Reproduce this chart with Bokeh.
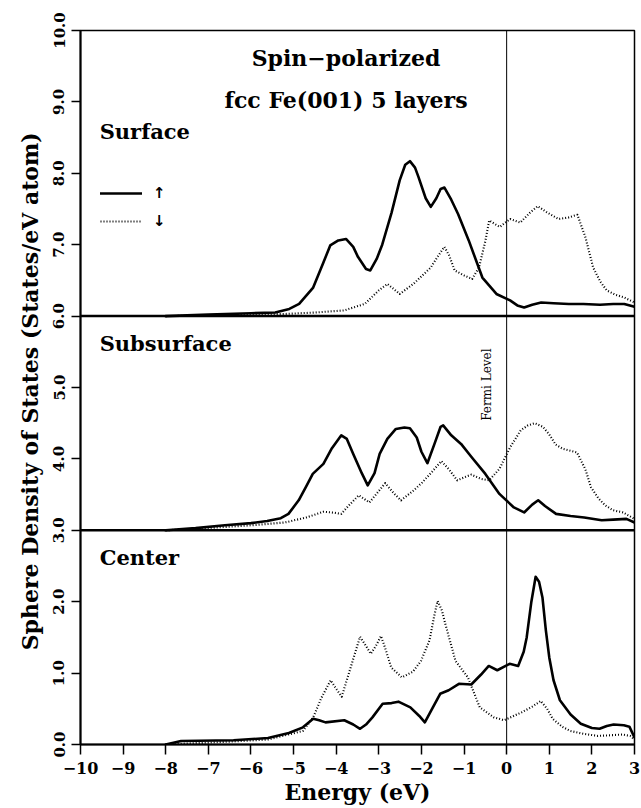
from bokeh.plotting import figure
from bokeh.models import Range1d, FixedTicker, Span, Label, Legend, LegendItem
from bokeh.embed import file_html
from bokeh.resources import INLINE

# ---------------- data ----------------
x_ticks = [-10, -9, -8, -7, -6, -5, -4, -3, -2, -1, 0, 1, 2, 3]
x_tick_labels = ["−10", "−9", "−8", "−7", "−6", "−5", "−4", "−3", "−2", "−1", "0", "1", "2", "3"]
y_ticks = [0, 1, 2, 3, 4, 5, 6, 7, 8, 9, 10]
y_tick_labels = ["0.0", "1.0", "2.0", "3.0", "4.0", "5.0", "6.0", "7.0", "8.0", "9.0", "10.0"]

panel_names = ["Surface", "Subsurface", "Center"]
panel_offsets = [6, 3, 0]

surface_up_e = [-8, -7, -6, -5.43, -5.1, -4.87, -4.54, -4.3, -4.14, -3.95, -3.77, -3.6, -3.49, -3.3, -3.2,
                -3.05, -2.92, -2.7, -2.51, -2.38, -2.27, -2.15, -2.07, -1.9, -1.78, -1.65, -1.55, -1.46,
                -1.3, -1.14, -0.89, -0.57, -0.24, 0.08, 0.25, 0.41, 0.6, 0.81, 1.1, 1.46, 1.8, 2.19, 2.5,
                2.76, 3.0]
surface_up_dos = [0.0, 0.02, 0.04, 0.05, 0.10, 0.17, 0.40, 0.75, 0.99, 1.06, 1.08, 0.97, 0.83, 0.66, 0.64,
                  0.80, 1.00, 1.45, 1.90, 2.12, 2.17, 2.08, 1.95, 1.65, 1.53, 1.65, 1.78, 1.80,
                  1.63, 1.43, 1.06, 0.54, 0.31, 0.22, 0.15, 0.12, 0.16, 0.19, 0.18, 0.17, 0.17, 0.16, 0.17,
                  0.17, 0.13]

surface_dn_e = [-8, -7, -6, -5.19, -4.5, -3.81, -3.6, -3.33, -3.0, -2.8, -2.65, -2.51, -2.19, -1.78, -1.6,
                -1.46, -1.35, -1.22, -1.0, -0.81, -0.65, -0.5, -0.41, -0.25, -0.16, 0.08, 0.32, 0.55, 0.73,
                0.95, 1.22, 1.45, 1.66, 1.85, 2.03, 2.2, 2.35, 2.55, 2.76, 3.0]
surface_dn_dos = [0.0, 0.01, 0.02, 0.03, 0.05, 0.08, 0.12, 0.17, 0.36, 0.45, 0.38, 0.31, 0.45, 0.68, 0.85,
                  0.97, 0.85, 0.64, 0.57, 0.52, 0.68, 1.05, 1.34, 1.28, 1.25, 1.36, 1.31, 1.45, 1.54,
                  1.45, 1.36, 1.38, 1.42, 1.10, 0.68, 0.48, 0.36, 0.30, 0.26, 0.19]

subsurf_up_e = [-8, -7.3, -6.61, -6.0, -5.62, -5.3, -5.12, -4.88, -4.7, -4.55, -4.3, -4.1, -3.88, -3.75,
                -3.6, -3.4, -3.26, -3.1, -2.98, -2.8, -2.6, -2.4, -2.27, -2.11, -2.0, -1.86, -1.7, -1.55,
                -1.49, -1.3, -1.07, -0.83, -0.5, -0.17, 0.17, 0.41, 0.6, 0.74, 0.9, 1.16, 1.5, 1.82, 2.23,
                2.5, 2.81, 3.0]
subsurf_up_dos = [0.0, 0.03, 0.07, 0.10, 0.13, 0.17, 0.23, 0.42, 0.62, 0.79, 0.93, 1.15, 1.33, 1.28,
                  1.07, 0.80, 0.63, 0.80, 1.07, 1.28, 1.42, 1.44, 1.43, 1.30, 1.10, 0.94, 1.20, 1.45,
                  1.47, 1.33, 1.21, 1.03, 0.79, 0.51, 0.32, 0.25, 0.36, 0.42, 0.34, 0.23, 0.20, 0.18, 0.14,
                  0.15, 0.16, 0.11]

subsurf_dn_e = [-8, -6.78, -6.0, -5.2, -4.7, -4.3, -4.1, -3.88, -3.7, -3.47, -3.22, -3.0, -2.85, -2.65,
                -2.48, -2.2, -1.98, -1.75, -1.53, -1.35, -1.16, -1.0, -0.83, -0.6, -0.41, -0.17, 0.08, 0.33,
                0.5, 0.66, 0.85, 0.99, 1.15, 1.32, 1.65, 1.85, 1.98, 2.15, 2.31, 2.5, 2.73, 3.0]
subsurf_dn_dos = [0.0, 0.04, 0.07, 0.11, 0.18, 0.26, 0.25, 0.23, 0.35, 0.49, 0.39, 0.55, 0.66, 0.52,
                  0.42, 0.55, 0.67, 0.82, 0.97, 0.85, 0.70, 0.74, 0.78, 0.72, 0.70, 0.86, 1.16, 1.40,
                  1.47, 1.50, 1.45, 1.35, 1.20, 1.14, 1.09, 0.85, 0.60, 0.45, 0.35, 0.28, 0.25, 0.16]

center_up_e = [-8, -7.64, -6.41, -5.6, -5.11, -4.78, -4.54, -4.4, -4.25, -3.81, -3.6, -3.44, -3.3, -3.15,
               -2.91, -2.7, -2.54, -2.26, -2.05, -1.92, -1.75, -1.56, -1.36, -1.12, -0.83, -0.6, -0.42,
               -0.22, 0.07, 0.27, 0.40, 0.47, 0.58, 0.68, 0.76, 0.84, 0.92, 1.0, 1.1, 1.25, 1.5, 1.74,
               2.0, 2.18, 2.35, 2.51, 2.75, 2.88, 3.0]
center_up_dos = [0.0, 0.05, 0.06, 0.09, 0.16, 0.24, 0.36, 0.34, 0.31, 0.34, 0.28, 0.22, 0.28, 0.38,
                 0.57, 0.58, 0.60, 0.52, 0.40, 0.31, 0.50, 0.71, 0.76, 0.85, 0.84, 0.98, 1.10,
                 1.04, 1.13, 1.10, 1.30, 1.50, 2.00, 2.35, 2.28, 2.06, 1.60, 1.22, 0.90, 0.62, 0.42, 0.29,
                 0.23, 0.22, 0.26, 0.28, 0.27, 0.25, 0.10]

center_dn_e = [-8, -6.5, -5.6, -4.78, -4.54, -4.35, -4.13, -4.0, -3.87, -3.65, -3.44, -3.3, -3.19, -3.05,
               -2.95, -2.85, -2.71, -2.46, -2.2, -2.01, -1.81, -1.7, -1.62, -1.52, -1.44, -1.2, -0.91,
               -0.63, -0.3, -0.06, 0.35, 0.6, 0.8, 0.95, 1.08, 1.3, 1.49, 1.8, 2.14, 2.45, 2.71, 2.9, 3.0]
center_dn_dos = [0.0, 0.04, 0.07, 0.19, 0.38, 0.65, 0.90, 0.78, 0.67, 1.10, 1.51, 1.38, 1.27, 1.40,
                 1.52, 1.35, 1.08, 0.94, 1.02, 1.17, 1.46, 1.80, 2.01, 1.88, 1.69, 1.17, 0.94,
                 0.52, 0.38, 0.34, 0.45, 0.53, 0.61, 0.50, 0.36, 0.25, 0.19, 0.15, 0.12, 0.13, 0.14, 0.12, 0.07]

spin_labels = ["↑", "↓"]

SERIF = "DejaVu Serif"

# ---------------- figure ----------------
p = figure(width=641, height=808, output_backend="svg", toolbar_location=None,
           x_range=Range1d(-10, 3), y_range=Range1d(0, 10),
           min_border_left=80, min_border_right=7, min_border_top=30, min_border_bottom=64)
p.grid.visible = False
p.outline_line_color = "black"
p.outline_line_width = 1.5
p.background_fill_color = "white"
p.border_fill_color = "white"

xa = p.xaxis[0]
xa.ticker = FixedTicker(ticks=x_ticks)
xa.major_label_overrides = {t: l for t, l in zip(x_ticks, x_tick_labels)}
xa.axis_label = "Energy (eV)"
xa.axis_line_width = 2
xa.axis_line_color = "black"
xa.major_tick_line_width = 1.5
xa.major_tick_line_color = "black"
xa.major_tick_out = 10
xa.major_tick_in = 0
xa.minor_tick_out = 0
xa.minor_tick_in = 0
xa.major_label_standoff = 7
xa.major_label_text_font = SERIF
xa.major_label_text_font_style = "bold"
xa.major_label_text_font_size = "16px"
xa.major_label_text_color = "black"
xa.axis_label_text_font = SERIF
xa.axis_label_text_font_style = "bold"
xa.axis_label_text_font_size = "22px"
xa.axis_label_text_color = "black"
xa.axis_label_standoff = 2

ya = p.yaxis[0]
ya.ticker = FixedTicker(ticks=y_ticks)
ya.major_label_overrides = {t: l for t, l in zip(y_ticks, y_tick_labels)}
ya.major_label_orientation = "vertical"
ya.axis_label = "Sphere Density of States (States/eV  atom)"
ya.axis_line_width = 2
ya.axis_line_color = "black"
ya.major_tick_line_width = 1.5
ya.major_tick_line_color = "black"
ya.major_tick_out = 9
ya.major_tick_in = 0
ya.minor_tick_out = 0
ya.minor_tick_in = 0
ya.major_label_standoff = 7
ya.major_label_text_font = SERIF
ya.major_label_text_font_style = "bold"
ya.major_label_text_font_size = "15px"
ya.major_label_text_color = "black"
ya.axis_label_text_font = SERIF
ya.axis_label_text_font_style = "bold"
ya.axis_label_text_font_size = "22px"
ya.axis_label_text_color = "black"
ya.axis_label_standoff = 8

# separators and Fermi level
for off in panel_offsets[:2]:
    p.add_layout(Span(location=off, dimension="width", line_color="black", line_width=2.5))
p.add_layout(Span(location=0, dimension="height", line_color="black", line_width=1))

series = [
    (surface_up_e, surface_up_dos, surface_dn_e, surface_dn_dos, panel_offsets[0]),
    (subsurf_up_e, subsurf_up_dos, subsurf_dn_e, subsurf_dn_dos, panel_offsets[1]),
    (center_up_e, center_up_dos, center_dn_e, center_dn_dos, panel_offsets[2]),
]
legend_renderers = None
for ue, ud, de, dd, off in series:
    r_dn = p.line(de, [v + off for v in dd], line_color="black", line_width=2.1,
                  line_dash="1 2", line_join="round")
    r_up = p.line(ue, [v + off for v in ud], line_color="black", line_width=2.6,
                  line_join="round", line_cap="round")
    if legend_renderers is None:
        legend_renderers = (r_up, r_dn)

legend = Legend(items=[LegendItem(label=spin_labels[0], renderers=[legend_renderers[0]]),
                       LegendItem(label=spin_labels[1], renderers=[legend_renderers[1]])],
                location=(20, 513), orientation="vertical",
                border_line_alpha=0, background_fill_alpha=0,
                padding=0, margin=0, spacing=8, glyph_width=42, glyph_height=20,
                label_height=20, label_standoff=11,
                label_text_font="DejaVu Sans", label_text_font_style="bold",
                label_text_font_size="15px", label_text_color="black")
p.add_layout(legend)

# titles and panel labels
p.add_layout(Label(x=-3.77, y=9.61, text="Spin−polarized", text_align="center", text_baseline="middle",
                   text_font=SERIF, text_font_style="bold", text_font_size="22px", text_color="black"))
p.add_layout(Label(x=-3.77, y=9.02, text="fcc Fe(001) 5 layers", text_align="center",
                   text_baseline="middle", text_font=SERIF, text_font_style="bold", text_font_size="22px",
                   text_color="black"))
panel_label_y = [8.59, 5.62, 2.62]
for name, ly in zip(panel_names, panel_label_y):
    p.add_layout(Label(x=-9.55, y=ly, text=name, text_align="left", text_baseline="middle",
                       text_font=SERIF, text_font_style="bold", text_font_size="21px", text_color="black"))
p.add_layout(Label(x=-0.45, y=5.04, text="Fermi Level", angle=1.5708, text_align="center",
                   text_baseline="middle", text_font=SERIF, text_font_size="12px", text_color="black"))

open("out.html", "w").write(file_html(p, INLINE))
